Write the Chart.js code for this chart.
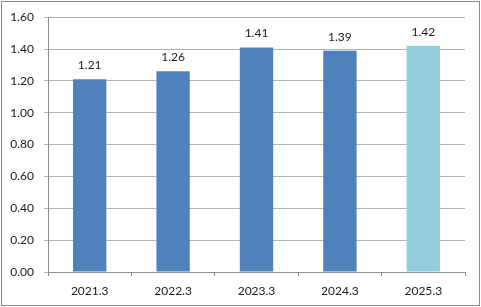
<!DOCTYPE html>
<html>
<head>
<meta charset="utf-8">
<script src="https://cdn.jsdelivr.net/npm/chart.js@4/dist/chart.umd.min.js"></script>
<style>
  html, body { margin: 0; padding: 0; background: #fff; }
  #caja { position: relative; width: 481px; height: 307px; }
  #marco { position: absolute; left: 1px; top: 1px; width: 477px; height: 303px; border: 1px solid #8a8a8a; pointer-events: none; }
</style>
</head>
<body>
<div id="caja">
  <canvas id="grafico" width="481" height="307"></canvas>
  <div id="marco"></div>
</div>
<script>
// datos del gráfico
const periodos = ['2021.3', '2022.3', '2023.3', '2024.3', '2025.3']
const valores = [1.21, 1.26, 1.41, 1.39, 1.42]
const colores = ['#4f81bd', '#4f81bd', '#4f81bd', '#4f81bd', '#93cddd']
const ticksY = [0, 0.2, 0.4, 0.6, 0.8, 1.0, 1.2, 1.4, 1.6]

const fuente = { family: 'Lato', size: 12 }

// etiquetas de valor sobre cada barra
const etiquetasPlugin = {
    id: 'etiquetas',
    afterDatasetsDraw(chart) {
        const ctx = chart.ctx
        const meta = chart.getDatasetMeta(0)
        ctx.save()
        ctx.font = '12px Lato'
        ctx.fillStyle = '#1a1a1a'
        ctx.textAlign = 'center'
        ctx.textBaseline = 'alphabetic'
        meta.data.forEach((bar, i) => {
            ctx.fillText(valores[i].toFixed(2), bar.x, bar.y - 10)
        })
        ctx.restore()
    }
}

new Chart(document.getElementById('grafico'), {
    type: 'bar',
    data: {
        labels: periodos,
        datasets: [{
            data: valores,
            backgroundColor: colores,
            borderWidth: 0,
            categoryPercentage: 1,
            barPercentage: 0.4
        }]
    },
    options: {
        responsive: false,
        animation: false,
        layout: { padding: { top: 16, right: 16, left: 0, bottom: 0 } },
        plugins: { legend: { display: false }, tooltip: { enabled: false } },
        scales: {
            x: {
                grid: { offset: true, drawOnChartArea: false, drawTicks: true, tickLength: 4, color: '#8c8c8c' },
                border: { color: '#8c8c8c' },
                ticks: { font: fuente, color: '#1a1a1a', padding: 8, maxRotation: 0 },
                afterFit: (scale) => { scale.height = 35 }
            },
            y: {
                min: 0,
                max: 1.6,
                afterBuildTicks: (scale) => { scale.ticks = ticksY.map(v => ({ value: v })) },
                grid: { color: '#b3b3b3', tickLength: 4 },
                border: { color: '#8c8c8c' },
                ticks: {
                    font: fuente,
                    color: '#1a1a1a',
                    padding: 10,
                    callback: (v) => Number(v).toFixed(2)
                },
                afterFit: (scale) => { scale.width = 48 }
            }
        }
    },
    plugins: [etiquetasPlugin]
})
</script>
</body>
</html>
